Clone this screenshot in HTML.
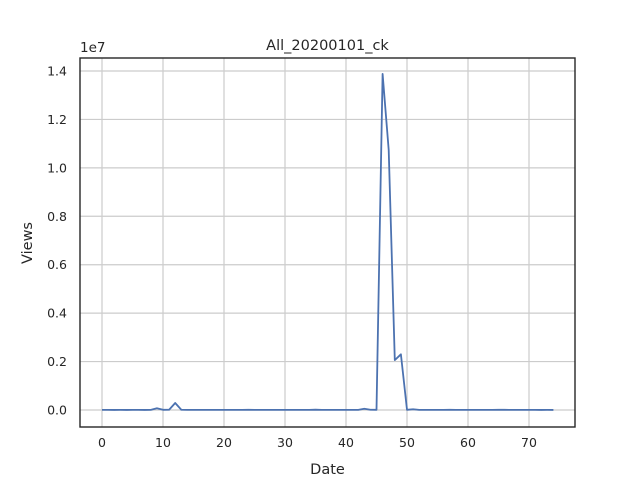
<!DOCTYPE html>
<html><head><meta charset="utf-8"><style>
body{margin:0;background:#fff;font-family:"DejaVu Sans","Liberation Sans",sans-serif;}
svg text{font-family:"DejaVu Sans","Liberation Sans",sans-serif;fill:#262626;}
</style></head><body>
<svg id="c" width="640" height="480"></svg>
<script>
const xTicks=[0,10,20,30,40,50,60,70];
const yTicks=[0,0.2,0.4,0.6,0.8,1.0,1.2,1.4];
const yTickLabels=["0.0","0.2","0.4","0.6","0.8","1.0","1.2","1.4"];
const views=[5000,4000,3000,4000,3000,5000,4000,3000,6000,70000,8000,10000,290000,9000,6000,5000,4000,5000,4000,5000,4000,5000,4000,5000,8000,5000,4000,5000,4000,5000,4000,5000,4000,5000,4000,12000,6000,5000,4000,5000,4000,5000,6000,50000,9000,8000,13880000,10740000,2060000,2300000,8000,30000,6000,5000,4000,5000,4000,9000,5000,4000,6000,5000,4000,5000,6000,8000,7000,6000,5000,4000,5000,4000,3000,4000,3000];
const L=80,R=575,T=58,B=427;
const X=v=>102+v*(529-102)/70;
const Y=v=>410-v*(410-71)/1.4e7;
const s=document.getElementById('c');const NS='http://www.w3.org/2000/svg';
function mk(t,a,p){const e=document.createElementNS(NS,t);for(const k in a)e.setAttribute(k,a[k]);(p||s).appendChild(e);return e;}
xTicks.forEach(t=>{const g=mk('line',{x1:X(t),x2:X(t),y1:T,y2:B,stroke:'#cccccc','stroke-width':1.2});


const tx=mk('text',{x:X(t),y:B+20,'text-anchor':'middle','font-size':12.5});tx.textContent=t;

});
yTicks.forEach((t,i)=>{const y=Y(t*1e7);const g=mk('line',{x1:L,x2:R,y1:y,y2:y,stroke:'#cccccc','stroke-width':1.2});


const tx=mk('text',{x:L-13,y:y+4.5,'text-anchor':'end','font-size':12.5});tx.textContent=yTickLabels[i];

});
const p=mk('polyline',{points:views.map((v,i)=>X(i)+','+Y(v)).join(' '),fill:'none',stroke:'#4c72b0','stroke-width':1.8,'stroke-linejoin':'round'});


const fr=mk('rect',{x:L,y:T,width:R-L,height:B-T,fill:'none',stroke:'#262626','stroke-width':1.4});


function txt(str,a,name){const e=mk('text',a);e.textContent=str;}
txt('All_20200101_ck',{x:327.5,y:50,'text-anchor':'middle','font-size':14.5},'chart-title');
txt('Date',{x:327.5,y:474,'text-anchor':'middle','font-size':14.5},'x-axis-title');
txt('Views',{x:32,y:243,'text-anchor':'middle','font-size':14.5,transform:'rotate(-90 32 243)'},'y-axis-title');
txt('1e7',{x:80,y:52,'font-size':13.5},'y-scale-label');
</script>
</body></html>
